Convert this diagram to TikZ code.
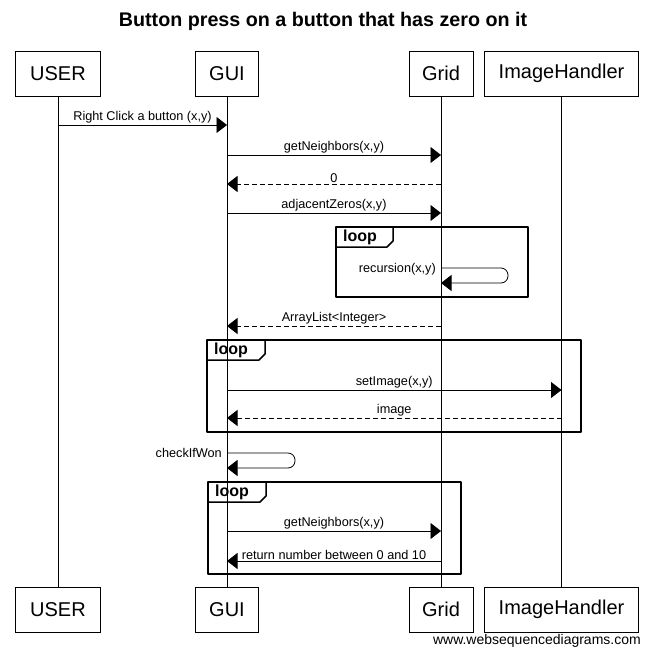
\documentclass[tikz,border=0pt]{standalone}
\usepackage{fontspec}
\setmainfont{Liberation Sans}
\usetikzlibrary{arrows.meta}

\begin{document}
\begin{tikzpicture}[x=1pt, y=-1pt,
    actor/.style={draw, line width=.8pt, minimum height=45pt, inner sep=0pt,
      font=\fontsize{20}{24}\selectfont},
    life/.style={line width=.8pt},
    msg/.style={line width=.8pt, -{Triangle[length=10.5pt,width=16pt]}},
    reply/.style={msg, dash pattern=on 5pt off 3pt},
    lbl/.style={font=\fontsize{12.7}{14}\selectfont, inner sep=1pt},
    frame/.style={draw, line width=1.5pt, line join=round},
    looptag/.style={font=\bfseries\fontsize{16}{18}\selectfont, anchor=west, inner sep=0pt}]
    \useasboundingbox (0,0) rectangle (652,657);

    \node[font=\bfseries\fontsize{19.7}{23}\selectfont] (title) at (323,21)
      {Button press on a button that has zero on it};

    % participants, top and bottom
    \node[actor, minimum width=85pt] (userT) at (58,73.5) {USER};
    \node[actor, minimum width=63pt] (guiT) at (227,73.5) {GUI};
    \node[actor, minimum width=64pt] (gridT) at (441,73.5) {Grid};
    \node[actor, minimum width=154pt] (imgT) at (561.5,73.5) {ImageHandler};
    \node[actor, minimum width=85pt] (userB) at (58,609.5) {USER};
    \node[actor, minimum width=63pt] (guiB) at (227,609.5) {GUI};
    \node[actor, minimum width=64pt] (gridB) at (441,609.5) {Grid};
    \node[actor, minimum width=154pt] (imgB) at (561.5,609.5) {ImageHandler};

    \draw[life] (userT) -- (userB);
    \draw[life] (guiT) -- (guiB);
    \draw[life] (gridT) -- (gridB);
    \draw[life] (imgT) -- (imgB);

    % loop frames
    \draw[frame] (336,227) rectangle (528,297);
    \draw[frame] (336,247) -- (387,247) -- (393,241) -- (393,227);
    \node[looptag] (loopA) at (343,237) {loop};
    \draw[frame] (207,340) rectangle (581,432);
    \draw[frame] (207,360) -- (259,360) -- (265,354) -- (265,340);
    \node[looptag] (loopB) at (214,350) {loop};
    \draw[frame] (208,482) rectangle (461,574);
    \draw[frame] (208,502) -- (260,502) -- (266,496) -- (266,482);
    \node[looptag] (loopC) at (215,492) {loop};

    % messages
    \draw[msg] (userT |- 0,125) -- (guiT |- 0,125)
      node[lbl, midway, above] {Right Click a button (x,y)};
    \draw[msg] (guiT |- 0,155) -- (gridT |- 0,155)
      node[lbl, midway, above] {getNeighbors(x,y)};
    \draw[reply] (gridT |- 0,184) -- (guiT |- 0,184)
      node[lbl, midway, above] {0};
    \draw[msg] (guiT |- 0,213) -- (gridT |- 0,213)
      node[lbl, midway, above] {adjacentZeros(x,y)};
    \draw[msg, rounded corners=7pt] (gridT |- 0,268) -- ++(67,0) |- (gridT |- 0,283);
    \node[lbl, anchor=east] (rec) at (437,269) {recursion(x,y)};
    \draw[reply] (gridT |- 0,326) -- (guiT |- 0,326)
      node[lbl, midway, above] {ArrayList<Integer>};
    \draw[msg] (guiT |- 0,390) -- (imgT |- 0,390)
      node[lbl, midway, above] {setImage(x,y)};
    \draw[reply] (imgT |- 0,418) -- (guiT |- 0,418)
      node[lbl, midway, above] {image};
    \draw[msg, rounded corners=7pt] (guiT |- 0,453) -- ++(68,0) |- (guiT |- 0,468);
    \node[lbl, anchor=east] (won) at (223,453) {checkIfWon};
    \draw[msg] (guiT |- 0,531) -- (gridT |- 0,531)
      node[lbl, midway, above] {getNeighbors(x,y)};
    \draw[msg] (gridT |- 0,561) -- (guiT |- 0,561)
      node[lbl, midway, above] {return number between 0 and 10};

    \node[font=\fontsize{14}{16}\selectfont, anchor=east, inner sep=0pt] (site) at (641,641)
      {www.websequencediagrams.com};
\end{tikzpicture}
\end{document}
